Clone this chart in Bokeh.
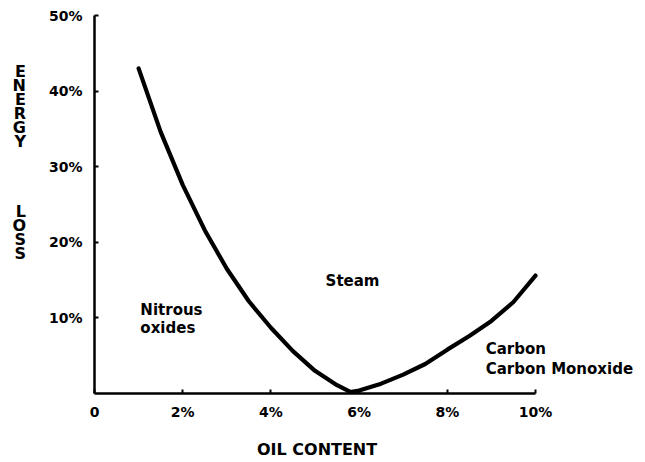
from bokeh.plotting import figure
from bokeh.models import FixedTicker, Label, Range1d
from bokeh.embed import file_html
from bokeh.resources import INLINE

# ---- data ----
oil_content = [1.0, 1.5, 2.0, 2.5, 3.0, 3.5, 4.0, 4.5, 5.0, 5.5, 5.8,
               6.0, 6.5, 7.0, 7.5, 8.0, 8.5, 9.0, 9.5, 10.0]
energy_loss = [43.0, 34.6, 27.6, 21.6, 16.5, 12.2, 8.7, 5.6, 3.0, 1.1, 0.2,
               0.4, 1.3, 2.5, 3.9, 5.8, 7.6, 9.6, 12.1, 15.6]

x_ticks = [0, 2, 4, 6, 8, 10]
x_tick_labels = ["0", "2%", "4%", "6%", "8%", "10%"]
y_ticks = [10, 20, 30, 40, 50]
y_tick_labels = ["10%", "20%", "30%", "40%", "50%"]

x_title = "OIL CONTENT"
y_title_words = ["ENERGY", "LOSS"]

region_labels = ["Steam", "Nitrous", "oxides", "Carbon", "Carbon  Monoxide"]
region_x = [5.24, 1.04, 1.04, 8.87, 8.87]
region_y = [14.9, 11.0, 8.6, 5.95, 3.3]

FONT = "DejaVu Sans"
NBSP = "\u00a0"

W, H = 645, 462
left, top, bottom = 94, 15, 69
px_per_x = 44.1
x_end = (W - left) / px_per_x   # frame runs to the right edge so labels are not cut

p = figure(width=W, height=H, output_backend="svg", toolbar_location=None,
           x_range=Range1d(0, x_end), y_range=Range1d(0, 50),
           min_border_left=left, min_border_right=0,
           min_border_top=top, min_border_bottom=bottom)
p.outline_line_color = None
p.xgrid.visible = False
p.ygrid.visible = False
p.background_fill_color = "white"
p.border_fill_color = "white"

p.line(oil_content, energy_loss, line_color="black", line_width=4.2,
       line_cap="round", line_join="round")

for ax, ticks, labels in ((p.xaxis[0], x_ticks, x_tick_labels),
                          (p.yaxis[0], y_ticks, y_tick_labels)):
    ax.ticker = FixedTicker(ticks=ticks, minor_ticks=[])
    ax.major_label_overrides = {t: l for t, l in zip(ticks, labels)}
    ax.axis_line_color = "black"
    ax.axis_line_width = 2.5
    ax.major_tick_line_color = "black"
    ax.major_tick_line_width = 2
    ax.major_tick_in = 4
    ax.major_tick_out = 0
    ax.minor_tick_line_color = None
    ax.major_label_text_font = FONT
    ax.major_label_text_font_style = "bold"
    ax.major_label_text_font_size = "14px"
    ax.major_label_text_color = "black"
    ax.axis_label_text_font = FONT
    ax.axis_label_text_font_style = "bold"
    ax.axis_label_text_font_size = "16px"
    ax.axis_label_text_color = "black"

xa = p.xaxis[0]
xa.bounds = (x_ticks[0], x_ticks[-1])
xa.major_label_standoff = 10
# padded on the right so it centres under the 0..10% axis, not the wider frame
xa.axis_label = x_title + NBSP * 19
xa.axis_label_standoff = 17

ya = p.yaxis[0]
ya.major_label_standoff = 12
# stacked vertical title, padded with blank lines so it sits where the reference has it
lines = list(y_title_words[0]) + [NBSP] * 4 + list(y_title_words[1]) + [NBSP] * 6
ya.axis_label = "\n".join(lines)
ya.axis_label_orientation = "horizontal"
ya.axis_label_text_line_height = 0.738
ya.axis_label_standoff = 20

# region annotations
for txt, xx, yy in zip(region_labels, region_x, region_y):
    p.add_layout(Label(x=xx, y=yy, text=txt, text_font=FONT,
                       text_font_style="bold", text_font_size="15px",
                       text_color="black", text_align="left",
                       text_baseline="alphabetic"))

open("out.html", "w").write(file_html(p, INLINE))
